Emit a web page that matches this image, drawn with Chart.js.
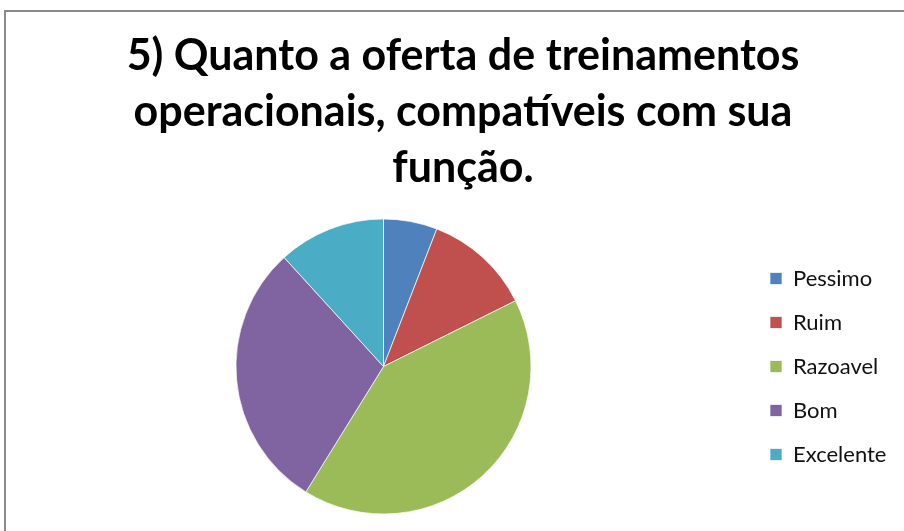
<!DOCTYPE html>
<html>
<head>
<meta charset="utf-8">
<script src="https://cdn.jsdelivr.net/npm/chart.js@4.4.0/dist/chart.umd.min.js"></script>
<style>
    html, body { margin: 0; padding: 0; background: #fff; overflow: hidden; }
    body { width: 904px; height: 531px; position: relative; }
    .frame {
        position: absolute; left: 4px; top: 10px; width: 940px; height: 540px;
        border-left: 2px solid #8a8a8a; border-top: 2px solid #8a8a8a;
    }
    #chart { position: absolute; left: 6px; top: 12px; }
</style>
</head>
<body>
<div class="frame"></div>
<canvas id="chart" width="920" height="519"></canvas>
<script>
// data
const titleLines = [
    "5) Quanto a oferta de treinamentos",
    "operacionais, compatíveis com sua",
    "função."
];
const categories = ["Pessimo", "Ruim", "Razoavel", "Bom", "Excelente"];
const counts = [1, 2, 7, 5, 2];
const sliceColors = ["#4F81BD", "#C0504D", "#9BBB59", "#8064A2", "#4BACC6"];

// widen the legend column so the title centres like the original
const legendWidth = {
    id: "legendWidth",
    beforeInit(chart) {
        const fit = chart.legend.fit;
        chart.legend.fit = function () {
            fit.call(this);
            this.width = 159;
        };
    }
};

const ctx = document.getElementById("chart").getContext("2d");

new Chart(ctx, {
    type: "pie",
    data: {
        labels: categories,
        datasets: [{
            data: counts,
            backgroundColor: sliceColors,
            borderColor: "rgba(255,255,255,0.7)",
            borderWidth: 1
        }]
    },
    options: {
        responsive: false,
        devicePixelRatio: 1,
        animation: false,
        layout: { padding: { left: 13, right: 19, top: 0, bottom: 16.5 } },
        plugins: {
            title: {
                display: true,
                text: titleLines,
                color: "#000",
                font: { family: "Lato", size: 43, weight: "bold", lineHeight: "56px" },
                padding: { top: 16, bottom: 22.5 }
            },
            legend: {
                position: "right",
                fullSize: false,
                labels: {
                    boxWidth: 12,
                    boxHeight: 12,
                    padding: 22,
                    color: "#111",
                    font: { family: "Lato", size: 22 }
                }
            },
            tooltip: { enabled: false }
        }
    },
    plugins: [legendWidth]
});
</script>
</body>
</html>
